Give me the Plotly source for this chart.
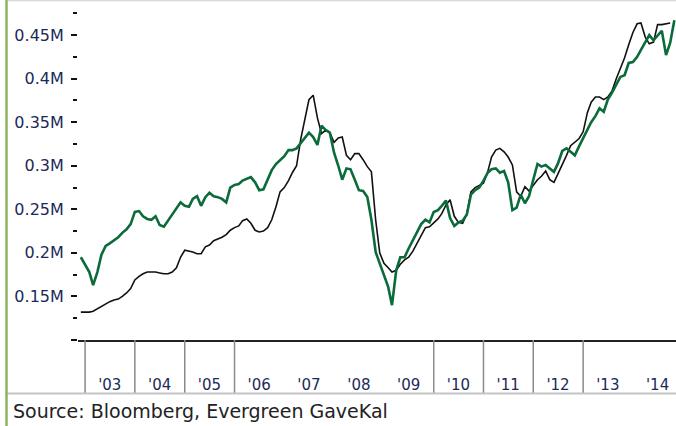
import pandas as pd
import plotly.graph_objects as go

# Monthly observations, Dec 2002 .. Nov 2014 (values in millions)
start_month = "2002-12-01"

black_series = [
    0.132, 0.132, 0.132, 0.133, 0.136, 0.139, 0.141, 0.144, 0.146, 0.147, 0.150, 0.154,
    0.159, 0.169, 0.173, 0.176, 0.178, 0.178, 0.178, 0.177, 0.176, 0.176, 0.178, 0.183,
    0.195, 0.203, 0.202, 0.201, 0.199, 0.199, 0.207, 0.209, 0.214, 0.216, 0.218, 0.221,
    0.226, 0.229, 0.231, 0.237, 0.239, 0.234, 0.226, 0.224, 0.225, 0.229, 0.238, 0.253,
    0.270, 0.275, 0.283, 0.292, 0.300, 0.330, 0.353, 0.376, 0.381, 0.355, 0.337, 0.341,
    0.338, 0.327, 0.332, 0.333, 0.312, 0.307, 0.314, 0.314, 0.307, 0.299, 0.293, 0.238,
    0.200, 0.188, 0.183, 0.178, 0.180, 0.187, 0.192, 0.195, 0.202, 0.211, 0.221, 0.229,
    0.230, 0.234, 0.239, 0.245, 0.255, 0.261, 0.242, 0.235, 0.234, 0.245, 0.270, 0.275,
    0.277, 0.280, 0.293, 0.310, 0.318, 0.320, 0.316, 0.310, 0.301, 0.270, 0.265, 0.276,
    0.271, 0.277, 0.284, 0.288, 0.294, 0.284, 0.281, 0.291, 0.301, 0.312, 0.323, 0.327,
    0.331, 0.339, 0.361, 0.373, 0.379, 0.379, 0.376, 0.379, 0.386, 0.400, 0.412, 0.424,
    0.439, 0.453, 0.463, 0.464, 0.448, 0.440, 0.442, 0.462, 0.462, 0.463, 0.464,
]

green_series = [
    0.195, 0.187, 0.178, 0.163, 0.178, 0.198, 0.208, 0.211, 0.214, 0.218, 0.223, 0.227,
    0.233, 0.247, 0.248, 0.242, 0.239, 0.238, 0.242, 0.232, 0.230, 0.237, 0.244, 0.252,
    0.258, 0.254, 0.253, 0.262, 0.265, 0.254, 0.264, 0.269, 0.265, 0.264, 0.262, 0.258,
    0.275, 0.278, 0.279, 0.283, 0.285, 0.287, 0.281, 0.272, 0.273, 0.284, 0.295, 0.302,
    0.307, 0.311, 0.318, 0.318, 0.320, 0.326, 0.333, 0.338, 0.333, 0.324, 0.346, 0.341,
    0.338, 0.315, 0.300, 0.284, 0.297, 0.296, 0.284, 0.272, 0.271, 0.264, 0.238, 0.201,
    0.188, 0.175, 0.161, 0.140, 0.180, 0.195, 0.195, 0.205, 0.214, 0.223, 0.233, 0.238,
    0.235, 0.247, 0.249, 0.254, 0.260, 0.240, 0.231, 0.235, 0.237, 0.244, 0.267, 0.272,
    0.275, 0.283, 0.292, 0.296, 0.297, 0.292, 0.294, 0.281, 0.249, 0.252, 0.267, 0.257,
    0.265, 0.284, 0.302, 0.299, 0.301, 0.297, 0.293, 0.303, 0.317, 0.320, 0.316, 0.312,
    0.322, 0.332, 0.341, 0.350, 0.357, 0.366, 0.362, 0.376, 0.384, 0.393, 0.402, 0.404,
    0.418, 0.419, 0.425, 0.433, 0.442, 0.450, 0.444, 0.449, 0.455, 0.427, 0.441, 0.467,
]

y_tick_values = [0.10, 0.15, 0.20, 0.25, 0.30, 0.35, 0.40, 0.45]
y_tick_labels = ["", "0.15M", "0.2M", "0.25M", "0.3M", "0.35M", "0.4M", "0.45M"]
y_minor_values = [0.125, 0.175, 0.225, 0.275, 0.325, 0.375, 0.425, 0.475]

years = list(range(2003, 2015))
year_labels = ["'03", "'04", "'05", "'06", "'07", "'08", "'09", "'10", "'11", "'12", "'13", "'14"]
separator_years = [2003, 2004, 2005, 2006, 2010, 2011, 2012, 2013]

source_text = "Source: Bloomberg, Evergreen GaveKal"

dates_green = pd.date_range(start_month, periods=len(green_series), freq="MS")
dates_black = dates_green[: len(black_series)]

W, H = 676, 426
ML, MR, MT, MB = 78, 0, 2, 86
pw, ph = W - ML - MR, H - MT - MB


def px_x(px):
    return (px - ML) / pw


def px_y(py):
    return (H - MB - py) / ph


fig = go.Figure()
fig.add_trace(go.Scatter(x=dates_black, y=black_series, mode="lines",
                         line=dict(color="#111111", width=1.6), showlegend=False))
fig.add_trace(go.Scatter(x=dates_green, y=green_series, mode="lines",
                         line=dict(color="#0b6b3a", width=2.6), showlegend=False))

shapes = []
for yr in separator_years:
    shapes.append(dict(type="line", xref="x", yref="paper",
                       x0=f"{yr}-01-01", x1=f"{yr}-01-01", y0=0, y1=px_y(393),
                       line=dict(color="#8a8a8a", width=1.5)))
# bottom grey rule
shapes.append(dict(type="line", xref="paper", yref="paper", x0=px_x(7), x1=1.0,
                   y0=px_y(393.5), y1=px_y(393.5), line=dict(color="#c4c4c4", width=2)))
# top grey rule
shapes.append(dict(type="line", xref="paper", yref="paper", x0=px_x(8), x1=1.0,
                   y0=px_y(0.5), y1=px_y(0.5), line=dict(color="#d8d8d8", width=1.5)))
# left green border
shapes.append(dict(type="line", xref="paper", yref="paper", x0=px_x(6.5), x1=px_x(6.5),
                   y0=px_y(0), y1=px_y(426), line=dict(color="#8db35f", width=2.5)))

fig.update_layout(
    width=W, height=H,
    margin=dict(l=ML, r=MR, t=MT, b=MB),
    paper_bgcolor="white", plot_bgcolor="white",
    shapes=shapes,
    annotations=[dict(text=source_text, xref="paper", yref="paper",
                      x=px_x(11), y=px_y(411), xanchor="left", yanchor="middle",
                      showarrow=False,
                      font=dict(family="DejaVu Sans", size=19, color="#222222"))],
    xaxis=dict(
        type="date",
        range=["2002-11-10", "2014-11-13"],
        tickmode="array",
        tickvals=[f"{y}-07-01" for y in years],
        ticktext=year_labels,
        ticks="", showgrid=False, zeroline=False,
        showline=True, linecolor="#222222", linewidth=1.5,
        ticklabelstandoff=30,
        tickfont=dict(family="DejaVu Sans", size=15, color="#1c2a5a"),
    ),
    yaxis=dict(
        range=[0.1, 0.488],
        tickmode="array",
        tickvals=y_tick_values,
        ticktext=y_tick_labels,
        ticks="outside", ticklen=6, tickwidth=2, tickcolor="#111111",
        showgrid=False, zeroline=False, showline=False,
        ticklabelstandoff=4,
        tickfont=dict(family="DejaVu Sans", size=16, color="#1c2a5a"),
        minor=dict(tickmode="array", tickvals=y_minor_values, ticks="outside",
                   ticklen=4, tickwidth=1.5, tickcolor="#111111", showgrid=False),
    ),
)

fig.write_html(
    "out.html",
    config={"displayModeBar": False},
    post_script="document.body.style.margin='0';document.body.style.overflow='hidden';",
)
